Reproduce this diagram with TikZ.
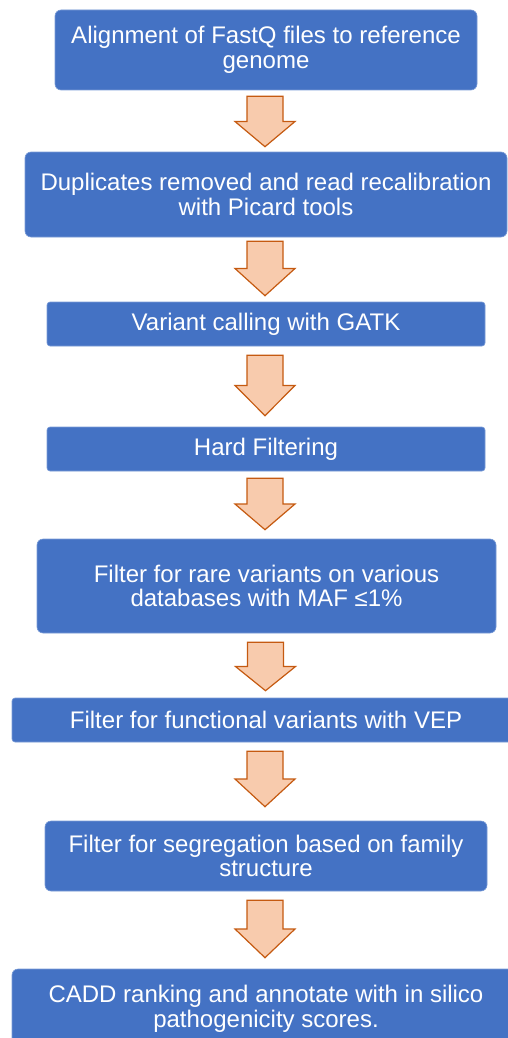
\documentclass[tikz,border=0pt]{standalone}
\usepackage{fontspec}
\setmainfont{Liberation Sans}
\usetikzlibrary{calc}

\definecolor{boxblue}{HTML}{4472C4}
\definecolor{boxedge}{HTML}{7A9BD6}
\definecolor{arrowfill}{HTML}{F8CBAD}
\definecolor{arrowedge}{HTML}{C55A11}

% Block arrow pointing down, from below node #1 (gap #2) to above node #3 (gap #4)
\newcommand\blockdown[4]{%
  \path[flowarrow] let \p1=($(#1.south)+(0,#2)$), \p2=($(#3.north)-(0,#4)$),
      \p3=($(\p1)!0.5!(\p2)$) in
    (\x1-19pt,\y1) -- (\x1+17pt,\y1) -- (\x1+17pt,\y3) -- (\x1+29pt,\y3)
    -- (\x1-1pt,\y2) -- (\x1-31pt,\y3) -- (\x1-19pt,\y3) -- cycle;}

\begin{document}
\begin{tikzpicture}[x=1pt,y=-1pt,
  stepbox/.style={fill=boxblue, draw=boxedge, line width=0.6pt, text=white,
    align=center, inner sep=0pt, rounded corners=6pt,
    font=\fontsize{24}{24.5}\selectfont},
  thinbox/.style={stepbox, rounded corners=3pt},
  flowarrow/.style={fill=arrowfill, draw=arrowedge, line width=1.2pt, line join=miter}]
\useasboundingbox (0,0) rectangle (507,1038);

\node[stepbox, minimum width=422, minimum height=80] (b1) at (266,50)
  {Alignment of FastQ files to reference\\genome};
\node[stepbox, minimum width=482, minimum height=85] (b2) at (266,194.5)
  {Duplicates removed and read recalibration\\with Picard tools};
\node[thinbox, minimum width=438, minimum height=44] (b3) at (266,324)
  {Variant calling with GATK};
\node[thinbox, minimum width=438, minimum height=44] (b4) at (266,449)
  {Hard Filtering};
\node[stepbox, minimum width=459, minimum height=94] (b5) at (266.5,586)
  {Filter for rare variants on various\\databases with MAF ≤1\%};
\node[thinbox, minimum width=508, minimum height=44] (b6) at (266,720)
  {Filter for functional variants with VEP};
\node[stepbox, minimum width=442, minimum height=70] (b7) at (266,856)
  {Filter for segregation based on family\\structure};
\node[stepbox, minimum width=508, minimum height=80] (b8) at (266,1009)
  {CADD ranking and annotate with in silico\\pathogenicity scores.};

\blockdown{b1}{6}{b2}{5}
\blockdown{b2}{4}{b3}{6}
\blockdown{b3}{9}{b4}{11}
\blockdown{b4}{7}{b5}{9}
\blockdown{b5}{9}{b6}{7}
\blockdown{b6}{9}{b7}{14}
\blockdown{b7}{9}{b8}{11}
\end{tikzpicture}
\end{document}
